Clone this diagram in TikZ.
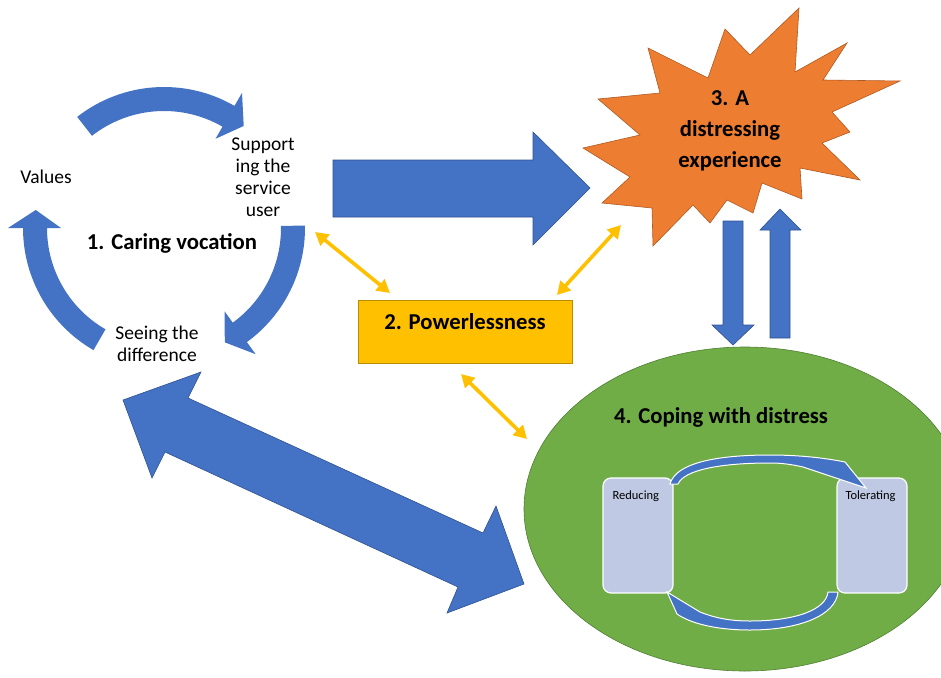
\documentclass[tikz,border=0pt]{standalone}
\usepackage{fontspec}
\setmainfont{Carlito}
\usepackage{tikz}
\usetikzlibrary{arrows.meta}
\definecolor{blu}{HTML}{4472C4}
\definecolor{bluedge}{HTML}{2F528F}
\definecolor{orng}{HTML}{ED7D31}
\definecolor{orngedge}{HTML}{AE5A21}
\definecolor{ylw}{HTML}{FFC000}
\definecolor{ylwedge}{HTML}{BC8C00}
\definecolor{grn}{HTML}{70AD47}
\definecolor{grnedge}{HTML}{507E32}
\definecolor{lav}{HTML}{BFC9E4}
\tikzset{
  blk/.style={fill=blu, draw=bluedge, line width=0.6pt},
  cyc/.style={fill=blu},
  yarrow/.style={draw=ylw, line width=3.6pt,
    {Triangle[length=13pt,width=14pt]}-{Triangle[length=13pt,width=14pt]}},
  lbl/.style={font=\fontsize{19.5}{22}\selectfont, align=center},
  head/.style={font=\fontsize{22.7}{31}\selectfont\bfseries, align=center},
  small/.style={font=\fontsize{12.5}{15}\selectfont},
  pbox/.style={draw=ylwedge, fill=ylw, line width=0.8pt, minimum width=214pt,
    minimum height=63pt, inner sep=0pt},
  pane/.style={fill=lav, draw=white, line width=1.2pt, rounded corners=8pt},
  loop/.style={fill=blu, draw=white, line width=1pt}
}
% circular block arrow: start angle, end of body, tip angle
\newcommand{\cyclearrow}[3]{%
  \fill[cyc] (#1:141pt) arc[start angle=#1, end angle=#2, radius=141pt]
    -- (#2:156pt) -- (#3:129.5pt) -- (#2:103pt) -- (#2:117pt)
    arc[start angle=#2, end angle=#1, radius=117pt] -- cycle;
}

\begin{document}
\begin{tikzpicture}[x=1pt, y=-1pt]
  \useasboundingbox (0,0) rectangle (941,677);
  \clip (0,0) rectangle (941,677);

  % 1. caring vocation cycle
  \begin{scope}[shift={(164,228)}, x=1pt, y=1pt]
    \cyclearrow{128}{60}{52}
    \cyclearrow{1}{-54}{-62}
    \cyclearrow{240}{180}{172}
  \end{scope}
  \node[lbl] (values) at (46,177) {Values};
  \node[lbl] (support) at (263,177) {Support\\ing the\\service\\user};
  \node[lbl] (seeing) at (157,344) {Seeing the\\difference};
  \node[head] (caring) at (172,243) {1. Caring vocation};

  % block arrows
  \filldraw[blk] (333,160) -- (533,160) -- (533,132) -- (590,188)
    -- (533,245) -- (533,217) -- (333,217) -- cycle;
  \filldraw[blk] (123,400) -- (201,372) -- (188,398) -- (483,533) -- (496,506)
    -- (524,584) -- (447,613) -- (458,587) -- (165,452) -- (152,478) -- cycle;
  \filldraw[blk] (723,221) -- (743,221) -- (743,325) -- (754,325) -- (733,345)
    -- (712,325) -- (723,325) -- cycle;
  \filldraw[blk] (770,338) -- (790,338) -- (790,230) -- (801,230) -- (780,209)
    -- (760,230) -- (770,230) -- cycle;

  % 3. distressing experience
  \filldraw[fill=orng, draw=orngedge, line width=0.6pt]
    (799,8) -- (795,72) -- (847,43) -- (823,80) -- (900,81) -- (832,112)
    -- (850,132) -- (822,143) -- (860,180) -- (800,168) -- (802,199)
    -- (762,183) -- (753,213) -- (727,200) -- (710,223) -- (693,205)
    -- (653,246) -- (652,208) -- (602,203) -- (630,177) -- (583,148)
    -- (640,135) -- (598,99) -- (660,93) -- (648,48) -- (708,78)
    -- (725,29) -- (750,55) -- cycle;
  \node[head] (distress) at (730,131) {3. A\\distressing\\experience};

  % 2. powerlessness
  \node[pbox] (pwr) at (465,331.5) {};
  \node[head] (pwrtxt) at (465,322) {2. Powerlessness};

  % 4. coping with distress
  \filldraw[fill=grn, draw=grnedge, line width=0.6pt] (745,509)
    ellipse [x radius=221pt, y radius=162pt];
  \node[head] (coping) at (721,417) {4. Coping with distress};
  \draw[pane] (603,478) rectangle (673,593);
  \draw[pane] (837,478) rectangle (907,593);
  \node[small, anchor=west] (reduce) at (609,496) {Reducing};
  \node[small, anchor=west] (tolerate) at (842,496) {Tolerating};
  \filldraw[loop] (670,484) .. controls (676,462) and (720,455) .. (770,455)
    .. controls (800,455) and (825,458) .. (845,462) -- (866,488) -- (803,467)
    .. controls (790,464) and (780,463) .. (770,463)
    .. controls (720,463) and (684,470) .. (678,484) -- cycle;
  \filldraw[loop] (838,592) .. controls (836,615) and (800,630) .. (750,630)
    .. controls (715,630) and (690,623) .. (677,614) -- (667,592) -- (700,612)
    .. controls (715,618) and (730,621) .. (750,621)
    .. controls (795,621) and (826,610) .. (828,592) -- cycle;

  % yellow links
  \coordinate (ya) at (315,232);
  \coordinate (yb) at (390,293);
  \coordinate (yc) at (557,295);
  \coordinate (yd) at (621,225);
  \coordinate (ye) at (461,374);
  \coordinate (yf) at (527,439);
  \draw[yarrow] (ya) -- (yb);
  \draw[yarrow] (yc) -- (yd);
  \draw[yarrow] (ye) -- (yf);
\end{tikzpicture}
\end{document}
